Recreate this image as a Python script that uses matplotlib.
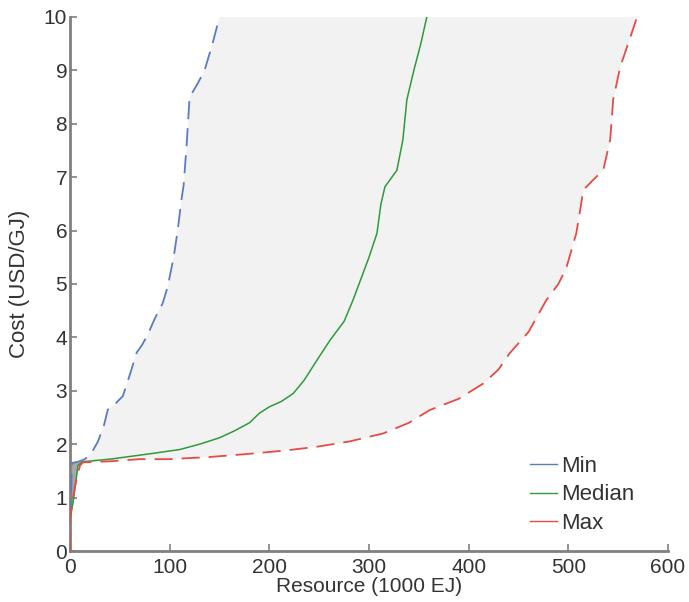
import numpy as np
import matplotlib
matplotlib.use("Agg")
from matplotlib import pyplot as plt

plt.rcParams['font.family'] = ['Liberation Sans', 'DejaVu Sans']

# Supply curves: resource (1000 EJ), cost (USD/GJ)
min_x = [0, 1, 2, 8, 15, 22, 28, 34, 38, 45, 53, 60, 67, 72, 78, 85, 93, 98, 104, 108, 112, 114, 117, 120, 128, 135, 143, 150]
min_y = [0.6, 1.0, 1.65, 1.67, 1.72, 1.85, 2.05, 2.35, 2.65, 2.75, 2.9, 3.3, 3.72, 3.85, 4.05, 4.35, 4.64, 4.95, 5.5, 6.0, 6.6, 6.85, 7.6, 8.5, 8.75, 9.0, 9.5, 10.0]

med_x = [0, 3, 8, 12, 40, 80, 110, 130, 150, 165, 180, 190, 200, 212, 224, 235, 248, 261, 275, 284, 290, 300, 308, 312, 316, 328, 334, 338, 345, 352, 358]
med_y = [0.6, 0.9, 1.6, 1.67, 1.72, 1.82, 1.9, 2.0, 2.12, 2.25, 2.4, 2.58, 2.7, 2.8, 2.95, 3.2, 3.58, 3.95, 4.3, 4.7, 5.0, 5.5, 5.95, 6.5, 6.82, 7.13, 7.7, 8.45, 9.0, 9.5, 10.0]

max_x = [0, 0, 3, 6, 10, 13, 40, 70, 100, 140, 180, 215, 247, 280, 314, 340, 361, 390, 415, 430, 441, 460, 478, 490, 498, 508, 512, 515, 525, 535, 542, 545, 552, 560, 569]
max_y = [0.0, 0.6, 1.0, 1.3, 1.6, 1.66, 1.68, 1.72, 1.72, 1.76, 1.82, 1.88, 1.95, 2.05, 2.2, 2.4, 2.64, 2.85, 3.14, 3.4, 3.7, 4.1, 4.7, 5.0, 5.3, 5.95, 6.4, 6.76, 6.95, 7.13, 7.7, 8.45, 9.06, 9.5, 10.0]

x_ticks = [0, 100, 200, 300, 400, 500, 600]
y_ticks = [0, 1, 2, 3, 4, 5, 6, 7, 8, 9, 10]

blue = '#5a7cc0'
green = '#2f9a3a'
red = '#e84a45'
grey = '#808080'
txt = '#333333'

fig = plt.figure(figsize=(6.89, 6.02), dpi=100)
ax = fig.add_axes([0.1016, 0.0847, 0.8679, 0.8871])

# shaded band between min and max curve
ax.fill(np.r_[min_x, max_x[::-1]], np.r_[min_y, max_y[::-1]], color='#f2f2f2', lw=0, zorder=1)
# darker sliver near the origin
n = 4
ax.fill(np.r_[min_x[:3], med_x[:n][::-1]], np.r_[min_y[:3], med_y[:n][::-1]], color='#a8a8a8', lw=0, zorder=1)

ax.plot(min_x, min_y, color=blue, lw=1.3, dashes=(10, 5), label='Min', zorder=3)
ax.plot(med_x, med_y, color=green, lw=1.1, label='Median', zorder=3)
ax.plot(max_x, max_y, color=red, lw=1.3, dashes=(10, 5), label='Max', zorder=3)

ax.set_xlim(0, 600)
ax.set_ylim(0, 10)
ax.set_xticks(x_ticks)
ax.set_yticks(y_ticks)
ax.set_xlabel('Resource (1000 EJ)', fontsize=15, color=txt, labelpad=0)
ax.set_ylabel('Cost (USD/GJ)', fontsize=16, color=txt, labelpad=10)

for s in ['top', 'right']:
    ax.spines[s].set_visible(False)
for s in ['left', 'bottom']:
    ax.spines[s].set_color(grey)
    ax.spines[s].set_linewidth(2)
ax.tick_params(direction='in', length=5, width=1.2, color=grey, labelsize=15, labelcolor=txt)
ax.tick_params(axis='y', pad=2)
ax.tick_params(axis='x', pad=5)

leg = ax.legend(loc='lower right', bbox_to_anchor=(0.978, -0.005), frameon=False, fontsize=16,
                handlelength=1.2, handletextpad=0.2, labelspacing=0.33)
for h in leg.get_lines():
    h.set_linestyle('-')
    h.set_linewidth(1.0)
for t in leg.get_texts():
    t.set_color(txt)

fig.savefig('out.png', dpi=100)
